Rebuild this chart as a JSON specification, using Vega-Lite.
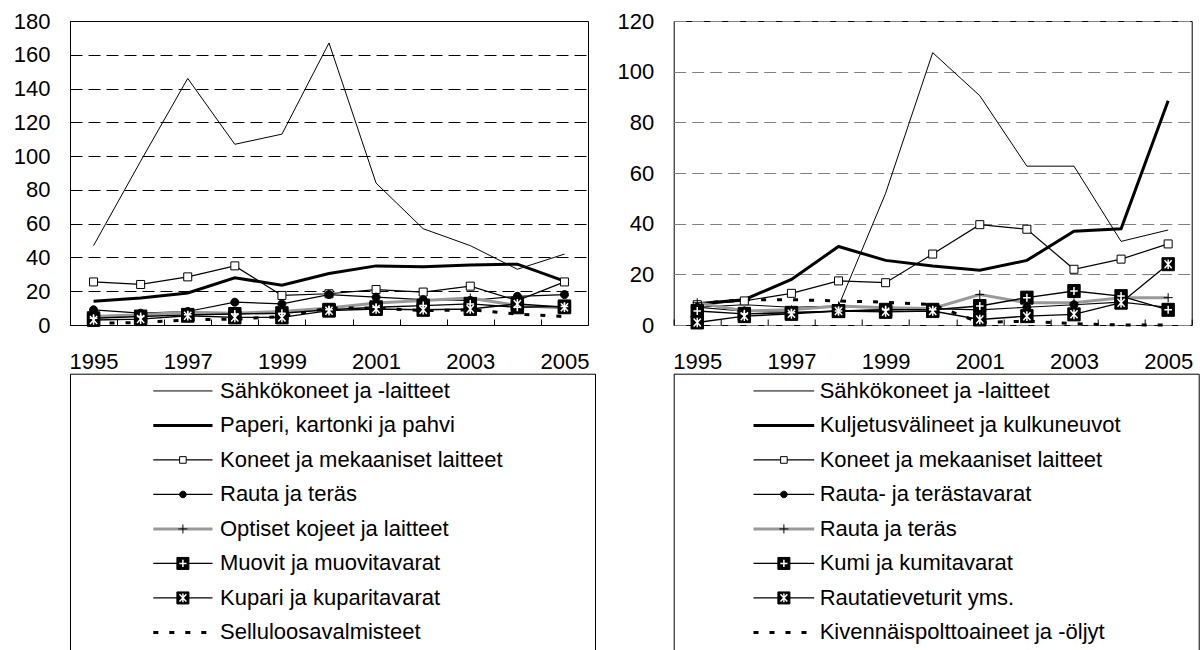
{
  "$schema": "https://vega.github.io/schema/vega-lite/v6.json",
  "background": "white",
  "padding": {"left": 12, "top": 9, "right": 0, "bottom": 0},
  "config": {
    "font": "Liberation Sans",
    "view": {"stroke": "black", "strokeWidth": 1}
  },
  "datasets": {
    "left": [
      {"series": "Sähkökoneet ja -laitteet", "year": 1995, "value": 47},
      {"series": "Sähkökoneet ja -laitteet", "year": 1996, "value": 97},
      {"series": "Sähkökoneet ja -laitteet", "year": 1997, "value": 146},
      {"series": "Sähkökoneet ja -laitteet", "year": 1998, "value": 107},
      {"series": "Sähkökoneet ja -laitteet", "year": 1999, "value": 113},
      {"series": "Sähkökoneet ja -laitteet", "year": 2000, "value": 167},
      {"series": "Sähkökoneet ja -laitteet", "year": 2001, "value": 84},
      {"series": "Sähkökoneet ja -laitteet", "year": 2002, "value": 57},
      {"series": "Sähkökoneet ja -laitteet", "year": 2003, "value": 47},
      {"series": "Sähkökoneet ja -laitteet", "year": 2004, "value": 33},
      {"series": "Sähkökoneet ja -laitteet", "year": 2005, "value": 42},
      {"series": "Paperi, kartonki ja pahvi", "year": 1995, "value": 14},
      {"series": "Paperi, kartonki ja pahvi", "year": 1996, "value": 16},
      {"series": "Paperi, kartonki ja pahvi", "year": 1997, "value": 19},
      {"series": "Paperi, kartonki ja pahvi", "year": 1998, "value": 28},
      {"series": "Paperi, kartonki ja pahvi", "year": 1999, "value": 23.5},
      {"series": "Paperi, kartonki ja pahvi", "year": 2000, "value": 30.5},
      {"series": "Paperi, kartonki ja pahvi", "year": 2001, "value": 35},
      {"series": "Paperi, kartonki ja pahvi", "year": 2002, "value": 34.5},
      {"series": "Paperi, kartonki ja pahvi", "year": 2003, "value": 35.5},
      {"series": "Paperi, kartonki ja pahvi", "year": 2004, "value": 36},
      {"series": "Paperi, kartonki ja pahvi", "year": 2005, "value": 26},
      {"series": "Koneet ja mekaaniset laitteet", "year": 1995, "value": 25.5},
      {"series": "Koneet ja mekaaniset laitteet", "year": 1996, "value": 24},
      {"series": "Koneet ja mekaaniset laitteet", "year": 1997, "value": 28.5},
      {"series": "Koneet ja mekaaniset laitteet", "year": 1998, "value": 35},
      {"series": "Koneet ja mekaaniset laitteet", "year": 1999, "value": 17.5},
      {"series": "Koneet ja mekaaniset laitteet", "year": 2000, "value": 18.5},
      {"series": "Koneet ja mekaaniset laitteet", "year": 2001, "value": 21},
      {"series": "Koneet ja mekaaniset laitteet", "year": 2002, "value": 19.5},
      {"series": "Koneet ja mekaaniset laitteet", "year": 2003, "value": 23},
      {"series": "Koneet ja mekaaniset laitteet", "year": 2004, "value": 14.5},
      {"series": "Koneet ja mekaaniset laitteet", "year": 2005, "value": 25.5},
      {"series": "Rauta ja teräs", "year": 1995, "value": 9},
      {"series": "Rauta ja teräs", "year": 1996, "value": 7},
      {"series": "Rauta ja teräs", "year": 1997, "value": 8},
      {"series": "Rauta ja teräs", "year": 1998, "value": 13.5},
      {"series": "Rauta ja teräs", "year": 1999, "value": 12.5},
      {"series": "Rauta ja teräs", "year": 2000, "value": 18},
      {"series": "Rauta ja teräs", "year": 2001, "value": 16.5},
      {"series": "Rauta ja teräs", "year": 2002, "value": 15},
      {"series": "Rauta ja teräs", "year": 2003, "value": 14.5},
      {"series": "Rauta ja teräs", "year": 2004, "value": 17},
      {"series": "Rauta ja teräs", "year": 2005, "value": 18},
      {"series": "Optiset kojeet ja laitteet", "year": 1995, "value": 5},
      {"series": "Optiset kojeet ja laitteet", "year": 1996, "value": 6},
      {"series": "Optiset kojeet ja laitteet", "year": 1997, "value": 7.5},
      {"series": "Optiset kojeet ja laitteet", "year": 1998, "value": 7},
      {"series": "Optiset kojeet ja laitteet", "year": 1999, "value": 8},
      {"series": "Optiset kojeet ja laitteet", "year": 2000, "value": 10},
      {"series": "Optiset kojeet ja laitteet", "year": 2001, "value": 13},
      {"series": "Optiset kojeet ja laitteet", "year": 2002, "value": 14.5},
      {"series": "Optiset kojeet ja laitteet", "year": 2003, "value": 16},
      {"series": "Optiset kojeet ja laitteet", "year": 2004, "value": 11.5},
      {"series": "Optiset kojeet ja laitteet", "year": 2005, "value": 10},
      {"series": "Muovit ja muovitavarat", "year": 1995, "value": 4},
      {"series": "Muovit ja muovitavarat", "year": 1996, "value": 5},
      {"series": "Muovit ja muovitavarat", "year": 1997, "value": 6},
      {"series": "Muovit ja muovitavarat", "year": 1998, "value": 6.5},
      {"series": "Muovit ja muovitavarat", "year": 1999, "value": 7},
      {"series": "Muovit ja muovitavarat", "year": 2000, "value": 9},
      {"series": "Muovit ja muovitavarat", "year": 2001, "value": 10.5},
      {"series": "Muovit ja muovitavarat", "year": 2002, "value": 11.5},
      {"series": "Muovit ja muovitavarat", "year": 2003, "value": 12.5},
      {"series": "Muovit ja muovitavarat", "year": 2004, "value": 10.5},
      {"series": "Muovit ja muovitavarat", "year": 2005, "value": 11},
      {"series": "Kupari ja kuparitavarat", "year": 1995, "value": 3},
      {"series": "Kupari ja kuparitavarat", "year": 1996, "value": 3.5},
      {"series": "Kupari ja kuparitavarat", "year": 1997, "value": 5.5},
      {"series": "Kupari ja kuparitavarat", "year": 1998, "value": 4.5},
      {"series": "Kupari ja kuparitavarat", "year": 1999, "value": 4.5},
      {"series": "Kupari ja kuparitavarat", "year": 2000, "value": 8.5},
      {"series": "Kupari ja kuparitavarat", "year": 2001, "value": 9.5},
      {"series": "Kupari ja kuparitavarat", "year": 2002, "value": 9},
      {"series": "Kupari ja kuparitavarat", "year": 2003, "value": 9.5},
      {"series": "Kupari ja kuparitavarat", "year": 2004, "value": 12.5},
      {"series": "Kupari ja kuparitavarat", "year": 2005, "value": 10.5},
      {"series": "Selluloosavalmisteet", "year": 1995, "value": 1},
      {"series": "Selluloosavalmisteet", "year": 1996, "value": 1.5},
      {"series": "Selluloosavalmisteet", "year": 1997, "value": 3},
      {"series": "Selluloosavalmisteet", "year": 1998, "value": 3.5},
      {"series": "Selluloosavalmisteet", "year": 1999, "value": 5},
      {"series": "Selluloosavalmisteet", "year": 2000, "value": 10},
      {"series": "Selluloosavalmisteet", "year": 2001, "value": 10},
      {"series": "Selluloosavalmisteet", "year": 2002, "value": 8.5},
      {"series": "Selluloosavalmisteet", "year": 2003, "value": 9},
      {"series": "Selluloosavalmisteet", "year": 2004, "value": 6.5},
      {"series": "Selluloosavalmisteet", "year": 2005, "value": 5}
    ],
    "right": [
      {"series": "Sähkökoneet ja -laitteet", "year": 1995, "value": 7},
      {"series": "Sähkökoneet ja -laitteet", "year": 1996, "value": 8},
      {"series": "Sähkökoneet ja -laitteet", "year": 1997, "value": 7},
      {"series": "Sähkökoneet ja -laitteet", "year": 1998, "value": 7.5},
      {"series": "Sähkökoneet ja -laitteet", "year": 1999, "value": 52},
      {"series": "Sähkökoneet ja -laitteet", "year": 2000, "value": 107.5},
      {"series": "Sähkökoneet ja -laitteet", "year": 2001, "value": 90.5},
      {"series": "Sähkökoneet ja -laitteet", "year": 2002, "value": 62.7},
      {"series": "Sähkökoneet ja -laitteet", "year": 2003, "value": 62.7},
      {"series": "Sähkökoneet ja -laitteet", "year": 2004, "value": 33},
      {"series": "Sähkökoneet ja -laitteet", "year": 2005, "value": 37.5},
      {"series": "Kuljetusvälineet ja kulkuneuvot", "year": 1995, "value": 8.4},
      {"series": "Kuljetusvälineet ja kulkuneuvot", "year": 1996, "value": 10},
      {"series": "Kuljetusvälineet ja kulkuneuvot", "year": 1997, "value": 18},
      {"series": "Kuljetusvälineet ja kulkuneuvot", "year": 1998, "value": 31},
      {"series": "Kuljetusvälineet ja kulkuneuvot", "year": 1999, "value": 25.5},
      {"series": "Kuljetusvälineet ja kulkuneuvot", "year": 2000, "value": 23.3},
      {"series": "Kuljetusvälineet ja kulkuneuvot", "year": 2001, "value": 21.6},
      {"series": "Kuljetusvälineet ja kulkuneuvot", "year": 2002, "value": 25.5},
      {"series": "Kuljetusvälineet ja kulkuneuvot", "year": 2003, "value": 37},
      {"series": "Kuljetusvälineet ja kulkuneuvot", "year": 2004, "value": 38},
      {"series": "Kuljetusvälineet ja kulkuneuvot", "year": 2005, "value": 88.5},
      {"series": "Koneet ja mekaaniset laitteet", "year": 1995, "value": 8},
      {"series": "Koneet ja mekaaniset laitteet", "year": 1996, "value": 9.5},
      {"series": "Koneet ja mekaaniset laitteet", "year": 1997, "value": 12.5},
      {"series": "Koneet ja mekaaniset laitteet", "year": 1998, "value": 17.4},
      {"series": "Koneet ja mekaaniset laitteet", "year": 1999, "value": 16.7},
      {"series": "Koneet ja mekaaniset laitteet", "year": 2000, "value": 28},
      {"series": "Koneet ja mekaaniset laitteet", "year": 2001, "value": 39.6},
      {"series": "Koneet ja mekaaniset laitteet", "year": 2002, "value": 37.8},
      {"series": "Koneet ja mekaaniset laitteet", "year": 2003, "value": 22},
      {"series": "Koneet ja mekaaniset laitteet", "year": 2004, "value": 26},
      {"series": "Koneet ja mekaaniset laitteet", "year": 2005, "value": 32},
      {"series": "Rauta- ja terästavarat", "year": 1995, "value": 7},
      {"series": "Rauta- ja terästavarat", "year": 1996, "value": 5.5},
      {"series": "Rauta- ja terästavarat", "year": 1997, "value": 5},
      {"series": "Rauta- ja terästavarat", "year": 1998, "value": 5.5},
      {"series": "Rauta- ja terästavarat", "year": 1999, "value": 6},
      {"series": "Rauta- ja terästavarat", "year": 2000, "value": 6.5},
      {"series": "Rauta- ja terästavarat", "year": 2001, "value": 6},
      {"series": "Rauta- ja terästavarat", "year": 2002, "value": 7},
      {"series": "Rauta- ja terästavarat", "year": 2003, "value": 8},
      {"series": "Rauta- ja terästavarat", "year": 2004, "value": 9},
      {"series": "Rauta- ja terästavarat", "year": 2005, "value": 7},
      {"series": "Rauta ja teräs", "year": 1995, "value": 8.8},
      {"series": "Rauta ja teräs", "year": 1996, "value": 5.5},
      {"series": "Rauta ja teräs", "year": 1997, "value": 6},
      {"series": "Rauta ja teräs", "year": 1998, "value": 7.5},
      {"series": "Rauta ja teräs", "year": 1999, "value": 6.8},
      {"series": "Rauta ja teräs", "year": 2000, "value": 6.5},
      {"series": "Rauta ja teräs", "year": 2001, "value": 12},
      {"series": "Rauta ja teräs", "year": 2002, "value": 8.8},
      {"series": "Rauta ja teräs", "year": 2003, "value": 8.8},
      {"series": "Rauta ja teräs", "year": 2004, "value": 10.8},
      {"series": "Rauta ja teräs", "year": 2005, "value": 10.8},
      {"series": "Kumi ja kumitavarat", "year": 1995, "value": 5.5},
      {"series": "Kumi ja kumitavarat", "year": 1996, "value": 4.4},
      {"series": "Kumi ja kumitavarat", "year": 1997, "value": 4.8},
      {"series": "Kumi ja kumitavarat", "year": 1998, "value": 5.5},
      {"series": "Kumi ja kumitavarat", "year": 1999, "value": 6},
      {"series": "Kumi ja kumitavarat", "year": 2000, "value": 6},
      {"series": "Kumi ja kumitavarat", "year": 2001, "value": 7.5},
      {"series": "Kumi ja kumitavarat", "year": 2002, "value": 10.8},
      {"series": "Kumi ja kumitavarat", "year": 2003, "value": 13.4},
      {"series": "Kumi ja kumitavarat", "year": 2004, "value": 11.4},
      {"series": "Kumi ja kumitavarat", "year": 2005, "value": 6},
      {"series": "Rautatieveturit yms.", "year": 1995, "value": 1},
      {"series": "Rautatieveturit yms.", "year": 1996, "value": 3.5},
      {"series": "Rautatieveturit yms.", "year": 1997, "value": 4.4},
      {"series": "Rautatieveturit yms.", "year": 1998, "value": 5.5},
      {"series": "Rautatieveturit yms.", "year": 1999, "value": 5.2},
      {"series": "Rautatieveturit yms.", "year": 2000, "value": 5.5},
      {"series": "Rautatieveturit yms.", "year": 2001, "value": 2.2},
      {"series": "Rautatieveturit yms.", "year": 2002, "value": 3.5},
      {"series": "Rautatieveturit yms.", "year": 2003, "value": 4.2},
      {"series": "Rautatieveturit yms.", "year": 2004, "value": 8.8},
      {"series": "Rautatieveturit yms.", "year": 2005, "value": 24},
      {"series": "Kivennäispolttoaineet ja -öljyt", "year": 1995, "value": 8.5},
      {"series": "Kivennäispolttoaineet ja -öljyt", "year": 1996, "value": 10},
      {"series": "Kivennäispolttoaineet ja -öljyt", "year": 1997, "value": 10},
      {"series": "Kivennäispolttoaineet ja -öljyt", "year": 1998, "value": 9.5},
      {"series": "Kivennäispolttoaineet ja -öljyt", "year": 1999, "value": 9},
      {"series": "Kivennäispolttoaineet ja -öljyt", "year": 2000, "value": 8},
      {"series": "Kivennäispolttoaineet ja -öljyt", "year": 2001, "value": 1},
      {"series": "Kivennäispolttoaineet ja -öljyt", "year": 2002, "value": 1.5},
      {"series": "Kivennäispolttoaineet ja -öljyt", "year": 2003, "value": 0.5},
      {"series": "Kivennäispolttoaineet ja -öljyt", "year": 2004, "value": 0},
      {"series": "Kivennäispolttoaineet ja -öljyt", "year": 2005, "value": 0}
    ],
    "legL": [
      {"series": "Sähkökoneet ja -laitteet"},
      {"series": "Paperi, kartonki ja pahvi"},
      {"series": "Koneet ja mekaaniset laitteet"},
      {"series": "Rauta ja teräs"},
      {"series": "Optiset kojeet ja laitteet"},
      {"series": "Muovit ja muovitavarat"},
      {"series": "Kupari ja kuparitavarat"},
      {"series": "Selluloosavalmisteet"}
    ],
    "legR": [
      {"series": "Sähkökoneet ja -laitteet"},
      {"series": "Kuljetusvälineet ja kulkuneuvot"},
      {"series": "Koneet ja mekaaniset laitteet"},
      {"series": "Rauta- ja terästavarat"},
      {"series": "Rauta ja teräs"},
      {"series": "Kumi ja kumitavarat"},
      {"series": "Rautatieveturit yms."},
      {"series": "Kivennäispolttoaineet ja -öljyt"}
    ]
  },
  "columns": 2,
  "bounds": "flush",
  "spacing": {"row": 48.7, "column": 78.7},
  "resolve": {"scale": {"shape": "independent", "fill": "independent", "x": "independent", "y": "independent"}},
  "concat": [
    {
      "width": 518,
      "height": 304,
      "data": {"name": "left"},
      "encoding": {
        "x": {"field": "year", "type": "ordinal", "scale": {"paddingInner": 0, "paddingOuter": 0},
          "axis": {"title": null, "labelAngle": 0, "labelFont": "Liberation Sans", "labelFontSize": 22, "labelColor": "black", "labelExpr": "datum.value % 2 == 1 ? datum.label : ''", "labelOverlap": false, "labelBaseline": "alphabetic", "labelPadding": 49, "tickBand": "extent", "tickSize": -6, "tickColor": "black", "tickWidth": 1, "domain": false, "grid": false}},
        "y": {"field": "value", "type": "quantitative", "scale": {"domain": [0, 180], "nice": false},
          "axis": {"title": null, "values": [0, 20, 40, 60, 80, 100, 120, 140, 160, 180], "labelFont": "Liberation Sans", "labelFontSize": 22, "labelColor": "black", "labelPadding": 20, "ticks": false, "domain": false, "grid": true, "gridColor": "black", "gridDash": [12, 6], "gridWidth": 1}}
      },
      "layer": [
        {"transform": [{"filter": {"field": "series", "equal": "Sähkökoneet ja -laitteet"}}], "mark": {"type": "line", "color": "black", "strokeWidth": 1}},
        {"transform": [{"filter": {"field": "series", "equal": "Paperi, kartonki ja pahvi"}}], "mark": {"type": "line", "color": "black", "strokeWidth": 3}},
        {"transform": [{"filter": {"field": "series", "oneOf": ["Koneet ja mekaaniset laitteet", "Rauta ja teräs"]}}], "mark": {"type": "line", "color": "black", "strokeWidth": 1.2}, "encoding": {"detail": {"field": "series"}}},
        {"transform": [{"filter": {"field": "series", "equal": "Optiset kojeet ja laitteet"}}], "mark": {"type": "line", "color": "#999999", "strokeWidth": 3}},
        {"transform": [{"filter": {"field": "series", "oneOf": ["Muovit ja muovitavarat", "Kupari ja kuparitavarat"]}}], "mark": {"type": "line", "color": "black", "strokeWidth": 1.4}, "encoding": {"detail": {"field": "series"}}},
        {"transform": [{"filter": {"field": "series", "equal": "Selluloosavalmisteet"}}], "mark": {"type": "line", "color": "black", "strokeWidth": 3, "strokeDash": [5, 11]}},
        {"transform": [{"filter": {"field": "series", "oneOf": ["Koneet ja mekaaniset laitteet", "Rauta ja teräs", "Optiset kojeet ja laitteet", "Muovit ja muovitavarat", "Kupari ja kuparitavarat"]}}],
          "mark": {"type": "point", "filled": true, "size": 400, "stroke": "black", "strokeWidth": 1, "opacity": 1},
          "encoding": {
            "shape": {"field": "series", "type": "nominal", "legend": null, "scale": {"domain": ["Koneet ja mekaaniset laitteet", "Rauta ja teräs", "Optiset kojeet ja laitteet", "Muovit ja muovitavarat", "Kupari ja kuparitavarat"], "range": ["M-0.4,-0.4H0.4V0.4H-0.4Z", "M-0.4,0A0.4,0.4,0,1,1,0.4,0A0.4,0.4,0,1,1,-0.4,0Z", "M-0.45,0H0.45M0,-0.45V0.45", "M-0.62,-0.65H0.62V0.65H-0.62Z", "M-0.62,-0.65H0.62V0.65H-0.62Z"]}},
            "fill": {"field": "series", "type": "nominal", "legend": null, "scale": {"domain": ["Koneet ja mekaaniset laitteet", "Rauta ja teräs", "Optiset kojeet ja laitteet", "Muovit ja muovitavarat", "Kupari ja kuparitavarat"], "range": ["white", "black", "transparent", "black", "black"]}}
          }},
        {"transform": [{"filter": {"field": "series", "equal": "Muovit ja muovitavarat"}}], "mark": {"type": "point", "filled": false, "color": "white", "size": 400, "strokeWidth": 1.5, "opacity": 1, "shape": "M-0.38,0H0.38M0,-0.4V0.4"}},
        {"transform": [{"filter": {"field": "series", "equal": "Kupari ja kuparitavarat"}}], "mark": {"type": "point", "filled": false, "color": "white", "size": 400, "strokeWidth": 1.5, "opacity": 1, "shape": "M-0.36,-0.4L0.36,0.4M-0.36,0.4L0.36,-0.4M0,-0.48V0.48"}}
      ]
    },
    {
      "width": 518,
      "height": 304,
      "data": {"name": "right"},
      "encoding": {
        "x": {"field": "year", "type": "ordinal", "scale": {"paddingInner": 0, "paddingOuter": 0},
          "axis": {"title": null, "labelAngle": 0, "labelFont": "Liberation Sans", "labelFontSize": 22, "labelColor": "black", "labelExpr": "datum.value % 2 == 1 ? datum.label : ''", "labelOverlap": false, "labelBaseline": "alphabetic", "labelPadding": 49, "tickBand": "extent", "tickSize": -6, "tickColor": "black", "tickWidth": 1, "domain": false, "grid": false}},
        "y": {"field": "value", "type": "quantitative", "scale": {"domain": [0, 120], "nice": false},
          "axis": {"title": null, "values": [0, 20, 40, 60, 80, 100, 120], "labelFont": "Liberation Sans", "labelFontSize": 22, "labelColor": "black", "labelPadding": 20, "ticks": false, "domain": false, "grid": true, "gridColor": "#808080", "gridDash": [12, 6], "gridWidth": 1.2}}
      },
      "layer": [
        {"transform": [{"filter": {"field": "series", "equal": "Sähkökoneet ja -laitteet"}}], "mark": {"type": "line", "color": "black", "strokeWidth": 1}},
        {"transform": [{"filter": {"field": "series", "equal": "Kuljetusvälineet ja kulkuneuvot"}}], "mark": {"type": "line", "color": "black", "strokeWidth": 3}},
        {"transform": [{"filter": {"field": "series", "oneOf": ["Koneet ja mekaaniset laitteet", "Rauta- ja terästavarat"]}}], "mark": {"type": "line", "color": "black", "strokeWidth": 1.2}, "encoding": {"detail": {"field": "series"}}},
        {"transform": [{"filter": {"field": "series", "equal": "Rauta ja teräs"}}], "mark": {"type": "line", "color": "#999999", "strokeWidth": 3}},
        {"transform": [{"filter": {"field": "series", "oneOf": ["Kumi ja kumitavarat", "Rautatieveturit yms."]}}], "mark": {"type": "line", "color": "black", "strokeWidth": 1.4}, "encoding": {"detail": {"field": "series"}}},
        {"transform": [{"filter": {"field": "series", "equal": "Kivennäispolttoaineet ja -öljyt"}}], "mark": {"type": "line", "color": "black", "strokeWidth": 3, "strokeDash": [5, 11]}},
        {"transform": [{"filter": {"field": "series", "oneOf": ["Koneet ja mekaaniset laitteet", "Rauta- ja terästavarat", "Rauta ja teräs", "Kumi ja kumitavarat", "Rautatieveturit yms."]}}],
          "mark": {"type": "point", "filled": true, "size": 400, "stroke": "black", "strokeWidth": 1, "opacity": 1},
          "encoding": {
            "shape": {"field": "series", "type": "nominal", "legend": null, "scale": {"domain": ["Koneet ja mekaaniset laitteet", "Rauta- ja terästavarat", "Rauta ja teräs", "Kumi ja kumitavarat", "Rautatieveturit yms."], "range": ["M-0.4,-0.4H0.4V0.4H-0.4Z", "M-0.4,0A0.4,0.4,0,1,1,0.4,0A0.4,0.4,0,1,1,-0.4,0Z", "M-0.45,0H0.45M0,-0.45V0.45", "M-0.62,-0.65H0.62V0.65H-0.62Z", "M-0.62,-0.65H0.62V0.65H-0.62Z"]}},
            "fill": {"field": "series", "type": "nominal", "legend": null, "scale": {"domain": ["Koneet ja mekaaniset laitteet", "Rauta- ja terästavarat", "Rauta ja teräs", "Kumi ja kumitavarat", "Rautatieveturit yms."], "range": ["white", "black", "transparent", "black", "black"]}}
          }},
        {"transform": [{"filter": {"field": "series", "equal": "Kumi ja kumitavarat"}}], "mark": {"type": "point", "filled": false, "color": "white", "size": 400, "strokeWidth": 1.5, "opacity": 1, "shape": "M-0.38,0H0.38M0,-0.4V0.4"}},
        {"transform": [{"filter": {"field": "series", "equal": "Rautatieveturit yms."}}], "mark": {"type": "point", "filled": false, "color": "white", "size": 400, "strokeWidth": 1.5, "opacity": 1, "shape": "M-0.36,-0.4L0.36,0.4M-0.36,0.4L0.36,-0.4M0,-0.48V0.48"}}
      ]
    },
    {
      "width": 525,
      "height": 276,
      "view": {"stroke": "black", "strokeWidth": 1, "strokeDash": [801, 525, 400]},
      "data": {"name": "legL"},
      "encoding": {
        "y": {"field": "series", "type": "nominal", "axis": null, "scale": {"type": "point", "padding": 0.5, "domain": ["Sähkökoneet ja -laitteet", "Paperi, kartonki ja pahvi", "Koneet ja mekaaniset laitteet", "Rauta ja teräs", "Optiset kojeet ja laitteet", "Muovit ja muovitavarat", "Kupari ja kuparitavarat", "Selluloosavalmisteet"]}}
      },
      "layer": [
        {"transform": [{"filter": {"field": "series", "equal": "Sähkökoneet ja -laitteet"}}], "mark": {"type": "rule", "color": "black", "strokeWidth": 1},
          "encoding": {"x": {"datum": 83.3, "type": "quantitative", "scale": {"domain": [0, 525]}, "axis": null}, "x2": {"datum": 142.5}}},
        {"transform": [{"filter": {"field": "series", "equal": "Paperi, kartonki ja pahvi"}}], "mark": {"type": "rule", "color": "black", "strokeWidth": 3},
          "encoding": {"x": {"datum": 83.3, "type": "quantitative", "scale": {"domain": [0, 525]}, "axis": null}, "x2": {"datum": 142.5}}},
        {"transform": [{"filter": {"field": "series", "oneOf": ["Koneet ja mekaaniset laitteet", "Rauta ja teräs", "Muovit ja muovitavarat", "Kupari ja kuparitavarat"]}}], "mark": {"type": "rule", "color": "black", "strokeWidth": 1.2},
          "encoding": {"x": {"datum": 83.3, "type": "quantitative", "scale": {"domain": [0, 525]}, "axis": null}, "x2": {"datum": 142.5}}},
        {"transform": [{"filter": {"field": "series", "equal": "Optiset kojeet ja laitteet"}}], "mark": {"type": "rule", "color": "#999999", "strokeWidth": 3},
          "encoding": {"x": {"datum": 83.3, "type": "quantitative", "scale": {"domain": [0, 525]}, "axis": null}, "x2": {"datum": 142.5}}},
        {"transform": [{"filter": {"field": "series", "equal": "Selluloosavalmisteet"}}], "mark": {"type": "rule", "color": "black", "strokeWidth": 3, "strokeDash": [5, 11]},
          "encoding": {"x": {"datum": 83.3, "type": "quantitative", "scale": {"domain": [0, 525]}, "axis": null}, "x2": {"datum": 142.5}}},
        {"transform": [{"filter": {"field": "series", "oneOf": ["Koneet ja mekaaniset laitteet", "Rauta ja teräs", "Optiset kojeet ja laitteet", "Muovit ja muovitavarat", "Kupari ja kuparitavarat"]}}],
          "mark": {"type": "point", "filled": true, "size": 400, "stroke": "black", "strokeWidth": 1, "opacity": 1},
          "encoding": {
            "x": {"datum": 112.9, "type": "quantitative", "scale": {"domain": [0, 525]}, "axis": null},
            "shape": {"field": "series", "type": "nominal", "legend": null, "scale": {"domain": ["Koneet ja mekaaniset laitteet", "Rauta ja teräs", "Optiset kojeet ja laitteet", "Muovit ja muovitavarat", "Kupari ja kuparitavarat"], "range": ["M-0.33,-0.33H0.33V0.33H-0.33Z", "M-0.33,0A0.33,0.33,0,1,1,0.33,0A0.33,0.33,0,1,1,-0.33,0Z", "M-0.45,0H0.45M0,-0.45V0.45", "M-0.6,-0.6H0.6V0.6H-0.6Z", "M-0.6,-0.6H0.6V0.6H-0.6Z"]}},
            "fill": {"field": "series", "type": "nominal", "legend": null, "scale": {"domain": ["Koneet ja mekaaniset laitteet", "Rauta ja teräs", "Optiset kojeet ja laitteet", "Muovit ja muovitavarat", "Kupari ja kuparitavarat"], "range": ["white", "black", "transparent", "black", "black"]}}
          }},
        {"transform": [{"filter": {"field": "series", "equal": "Muovit ja muovitavarat"}}], "mark": {"type": "point", "filled": false, "color": "white", "size": 400, "strokeWidth": 1.5, "opacity": 1, "shape": "M-0.36,0H0.36M0,-0.36V0.36"},
          "encoding": {"x": {"datum": 112.9, "type": "quantitative", "scale": {"domain": [0, 525]}, "axis": null}}},
        {"transform": [{"filter": {"field": "series", "equal": "Kupari ja kuparitavarat"}}], "mark": {"type": "point", "filled": false, "color": "white", "size": 400, "strokeWidth": 1.5, "opacity": 1, "shape": "M-0.34,-0.36L0.34,0.36M-0.34,0.36L0.34,-0.36M0,-0.44V0.44"},
          "encoding": {"x": {"datum": 112.9, "type": "quantitative", "scale": {"domain": [0, 525]}, "axis": null}}},
        {"mark": {"type": "text", "align": "left", "baseline": "middle", "font": "Liberation Sans", "fontSize": 22, "color": "black"},
          "encoding": {"x": {"datum": 150, "type": "quantitative", "scale": {"domain": [0, 525]}, "axis": null}, "text": {"field": "series"}}}
      ]
    },
    {
      "width": 525,
      "height": 276,
      "view": {"stroke": "black", "strokeWidth": 1, "strokeDash": [801, 525, 400]},
      "data": {"name": "legR"},
      "encoding": {
        "y": {"field": "series", "type": "nominal", "axis": null, "scale": {"type": "point", "padding": 0.5, "domain": ["Sähkökoneet ja -laitteet", "Kuljetusvälineet ja kulkuneuvot", "Koneet ja mekaaniset laitteet", "Rauta- ja terästavarat", "Rauta ja teräs", "Kumi ja kumitavarat", "Rautatieveturit yms.", "Kivennäispolttoaineet ja -öljyt"]}}
      },
      "layer": [
        {"transform": [{"filter": {"field": "series", "equal": "Sähkökoneet ja -laitteet"}}], "mark": {"type": "rule", "color": "black", "strokeWidth": 1},
          "encoding": {"x": {"datum": 79.8, "type": "quantitative", "scale": {"domain": [0, 525]}, "axis": null}, "x2": {"datum": 140.5}}},
        {"transform": [{"filter": {"field": "series", "equal": "Kuljetusvälineet ja kulkuneuvot"}}], "mark": {"type": "rule", "color": "black", "strokeWidth": 3},
          "encoding": {"x": {"datum": 79.8, "type": "quantitative", "scale": {"domain": [0, 525]}, "axis": null}, "x2": {"datum": 140.5}}},
        {"transform": [{"filter": {"field": "series", "oneOf": ["Koneet ja mekaaniset laitteet", "Rauta- ja terästavarat", "Kumi ja kumitavarat", "Rautatieveturit yms."]}}], "mark": {"type": "rule", "color": "black", "strokeWidth": 1.2},
          "encoding": {"x": {"datum": 79.8, "type": "quantitative", "scale": {"domain": [0, 525]}, "axis": null}, "x2": {"datum": 140.5}}},
        {"transform": [{"filter": {"field": "series", "equal": "Rauta ja teräs"}}], "mark": {"type": "rule", "color": "#999999", "strokeWidth": 3},
          "encoding": {"x": {"datum": 79.8, "type": "quantitative", "scale": {"domain": [0, 525]}, "axis": null}, "x2": {"datum": 140.5}}},
        {"transform": [{"filter": {"field": "series", "equal": "Kivennäispolttoaineet ja -öljyt"}}], "mark": {"type": "rule", "color": "black", "strokeWidth": 3, "strokeDash": [5, 11]},
          "encoding": {"x": {"datum": 79.8, "type": "quantitative", "scale": {"domain": [0, 525]}, "axis": null}, "x2": {"datum": 140.5}}},
        {"transform": [{"filter": {"field": "series", "oneOf": ["Koneet ja mekaaniset laitteet", "Rauta- ja terästavarat", "Rauta ja teräs", "Kumi ja kumitavarat", "Rautatieveturit yms."]}}],
          "mark": {"type": "point", "filled": true, "size": 400, "stroke": "black", "strokeWidth": 1, "opacity": 1},
          "encoding": {
            "x": {"datum": 110.2, "type": "quantitative", "scale": {"domain": [0, 525]}, "axis": null},
            "shape": {"field": "series", "type": "nominal", "legend": null, "scale": {"domain": ["Koneet ja mekaaniset laitteet", "Rauta- ja terästavarat", "Rauta ja teräs", "Kumi ja kumitavarat", "Rautatieveturit yms."], "range": ["M-0.33,-0.33H0.33V0.33H-0.33Z", "M-0.33,0A0.33,0.33,0,1,1,0.33,0A0.33,0.33,0,1,1,-0.33,0Z", "M-0.45,0H0.45M0,-0.45V0.45", "M-0.6,-0.6H0.6V0.6H-0.6Z", "M-0.6,-0.6H0.6V0.6H-0.6Z"]}},
            "fill": {"field": "series", "type": "nominal", "legend": null, "scale": {"domain": ["Koneet ja mekaaniset laitteet", "Rauta- ja terästavarat", "Rauta ja teräs", "Kumi ja kumitavarat", "Rautatieveturit yms."], "range": ["white", "black", "transparent", "black", "black"]}}
          }},
        {"transform": [{"filter": {"field": "series", "equal": "Kumi ja kumitavarat"}}], "mark": {"type": "point", "filled": false, "color": "white", "size": 400, "strokeWidth": 1.5, "opacity": 1, "shape": "M-0.36,0H0.36M0,-0.36V0.36"},
          "encoding": {"x": {"datum": 110.2, "type": "quantitative", "scale": {"domain": [0, 525]}, "axis": null}}},
        {"transform": [{"filter": {"field": "series", "equal": "Rautatieveturit yms."}}], "mark": {"type": "point", "filled": false, "color": "white", "size": 400, "strokeWidth": 1.5, "opacity": 1, "shape": "M-0.34,-0.36L0.34,0.36M-0.34,0.36L0.34,-0.36M0,-0.44V0.44"},
          "encoding": {"x": {"datum": 110.2, "type": "quantitative", "scale": {"domain": [0, 525]}, "axis": null}}},
        {"mark": {"type": "text", "align": "left", "baseline": "middle", "font": "Liberation Sans", "fontSize": 22, "color": "black"},
          "encoding": {"x": {"datum": 146, "type": "quantitative", "scale": {"domain": [0, 525]}, "axis": null}, "text": {"field": "series"}}}
      ]
    }
  ]
}
